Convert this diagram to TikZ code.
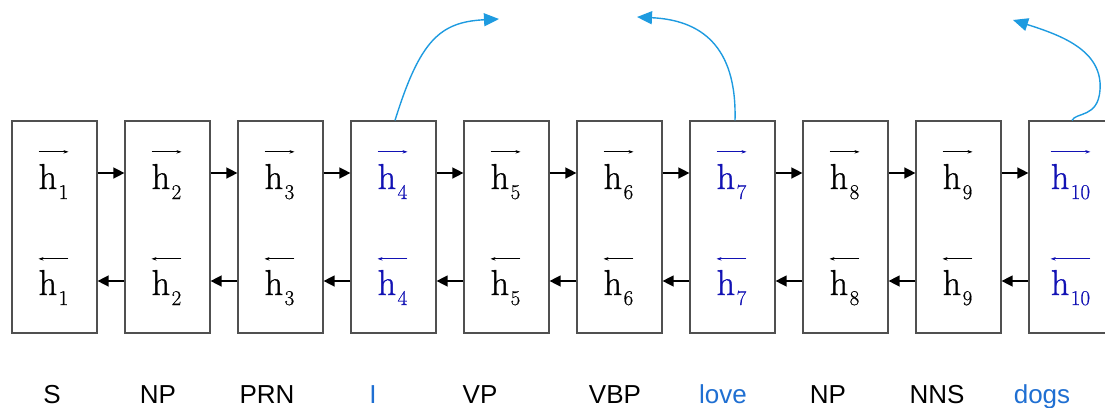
\documentclass[tikz,border=0pt]{standalone}
\usepackage{fontspec}
\newfontfamily\labelfont{Liberation Sans}
\newfontfamily\hfont[FakeBold=1.0]{Latin Modern Roman}
\newfontfamily\subfont[FakeBold=0.6]{Latin Modern Roman}
\usetikzlibrary{arrows.meta}
\definecolor{hblue}{HTML}{1212B4}
\definecolor{wblue}{HTML}{1F6FD2}
\definecolor{cblue}{HTML}{1E9BE0}
\definecolor{boxgray}{HTML}{505050}
\newcommand{\hsym}[1]{h\kern1.5pt\raisebox{-10pt}{\subfont\fontsize{21}{21}\selectfont #1}}
\tikzset{
  cell/.style={draw=boxgray, line width=1.2pt, minimum width=85pt, minimum height=212pt, inner sep=0pt},
  hlab/.style={inner sep=0pt, font=\hfont\fontsize{36}{38}\selectfont, anchor=base},
  vecarrow/.style={line width=0.8pt, -{Stealth[length=5pt,width=3.5pt]}},
  link/.style={line width=1.4pt, -{Triangle[length=11pt,width=11pt]}},
  attn/.style={draw=cblue, line width=1.4pt, -{Triangle[length=15pt,width=13pt]}},
  tag/.style={font=\labelfont\fontsize{26}{28}\selectfont, anchor=base, inner sep=0pt}
}
\begin{document}
\begin{tikzpicture}[x=1pt,y=-1pt]
\clip (0,0) rectangle (1105,407);
% cells, hidden states and tags
\foreach \i/\hc/\t/\tc/\tx in {1/black/S/black/52, 2/black/NP/black/158, 3/black/PRN/black/267,
    4/hblue/I/wblue/373, 5/black/VP/black/480, 6/black/VBP/black/615, 7/hblue/love/wblue/723,
    8/black/NP/black/828, 9/black/NNS/black/937, 10/hblue/dogs/wblue/1042} {
  \node[cell] (c\i) at ({54.5+113*(\i-1)},227) {};
  \node[hlab, text=\hc] (f\i) at ({53.5+113*(\i-1)},189) {\hsym{\i}};
  \node[hlab, text=\hc] (b\i) at ({53.5+113*(\i-1)},295) {\hsym{\i}};
  \draw[vecarrow, draw=\hc] ([yshift=12pt]f\i.north west) -- ([yshift=12pt]f\i.north east);
  \draw[vecarrow, draw=\hc] ([yshift=11pt]b\i.north east) -- ([yshift=11pt]b\i.north west);
  \node[tag, text=\tc] (t\i) at (\tx,403) {\t};
}
% recurrent connections
\foreach \i [evaluate=\i as \j using int(\i+1)] in {1,...,9} {
  \draw[link] (c\i.east |- 0,173) -- (c\j.west |- 0,173);
  \draw[link] (c\j.west |- 0,281) -- (c\i.east |- 0,281);
}
% attention outputs
\coordinate (o4) at (499,19);
\coordinate (o7) at (637,17);
\coordinate (o10) at (1013,20);
\draw[attn] (c4.north -| 395,0) .. controls (420,40) and (440,22) .. (o4);
\draw[attn] (c7.north -| 735,0) .. controls (737,45) and (700,20) .. (o7);
\draw[attn] (c10.north -| 1072,0) .. controls (1076,112) and (1098,118) .. (1100,90)
  .. controls (1103,50) and (1060,35) .. (o10);
\end{tikzpicture}
\end{document}
